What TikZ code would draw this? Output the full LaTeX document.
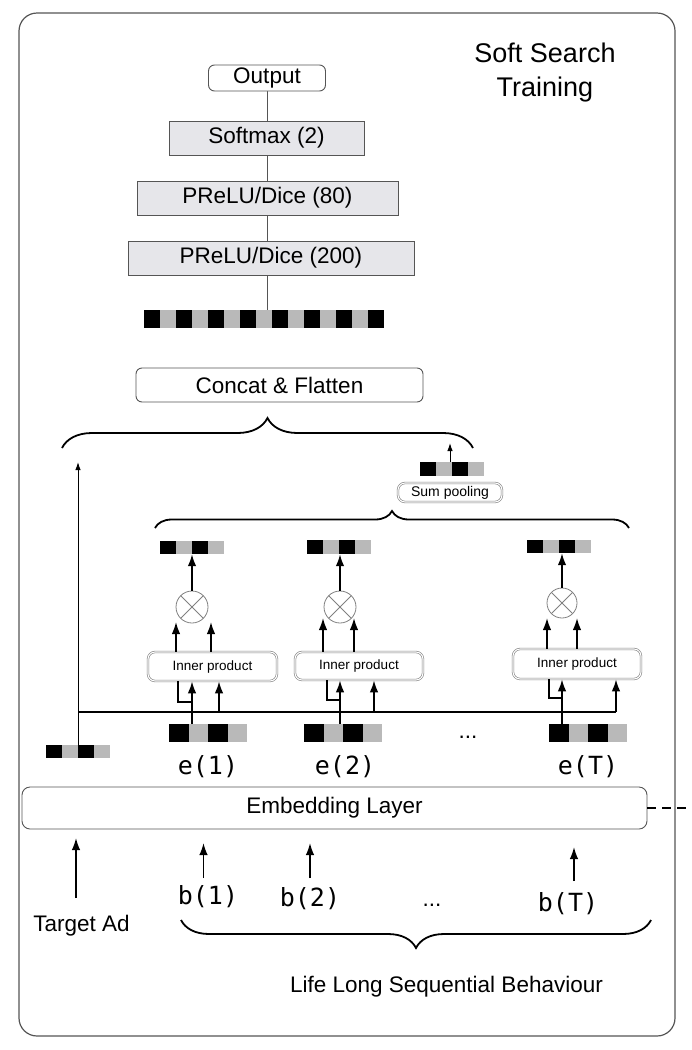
\documentclass[tikz,border=0pt]{standalone}
\usepackage{fontspec}
\setmainfont{Liberation Sans}
\newfontfamily\codefont{DejaVu Sans Mono}
\usetikzlibrary{decorations.pathreplacing, fit, backgrounds, arrows.meta}
\definecolor{cellgray}{HTML}{B9B9B9}
\definecolor{layergray}{HTML}{E6E6EA}
\definecolor{framegray}{HTML}{555555}

% row of black/gray cells: name, left x, top y, cells, cell width, height
\newcommand{\embvec}[6]{%
  \foreach \k in {1,...,#4}{%
    \ifodd\k\relax \def\cellshade{black}\else \def\cellshade{cellgray}\fi
    \fill[\cellshade] ({#2+(\k-1)*#5},#3) rectangle ++(#5,#6);
  }
  \coordinate (#1-nw) at (#2,#3);
  \coordinate (#1-se) at ({#2+#4*#5},{#3+#6});
  \node[fit=(#1-nw)(#1-se), inner sep=0pt] (#1) {};
}

\begin{document}
\begin{tikzpicture}[x=1pt, y=-1pt,
  lbl/.style={font=\fontsize{22.5}{27}\selectfont},
  code/.style={font=\codefont\fontsize{25}{29}\selectfont},
  box/.style={lbl, draw=framegray, line width=0.9pt, rounded corners=6pt, fill=white, inner sep=0pt},
  layer/.style={lbl, draw=framegray, line width=0.9pt, fill=layergray, inner sep=0pt},
  ipbox/.style={draw=gray, double=white, double distance=1.1pt, line width=0.6pt, rounded corners=7pt, fill=white, inner sep=0pt, font=\fontsize{13.5}{16}\selectfont},
  mult/.style={circle, draw=gray, line width=0.8pt, minimum size=32pt, inner sep=0pt, path picture={\draw[gray, line width=0.8pt] (path picture bounding box.south west) -- (path picture bounding box.north east) (path picture bounding box.north west) -- (path picture bounding box.south east);}},
  link/.style={-{Latex[length=12pt, width=8.5pt]}, line width=1.7pt},
  thin link/.style={-{Latex[length=8pt, width=5.5pt]}, line width=1pt},
  wire/.style={line width=1.6pt},
  curly/.style={decorate, decoration={brace, amplitude=#1}, line width=1.8pt}]
	\useasboundingbox (0,0) rectangle (692,1050);
	\draw[framegray, line width=1.2pt, rounded corners=18pt] (19,13) rectangle (675,1036);

	\node (title)[align=center, font=\fontsize{27}{34}\selectfont] at (545,73){Soft Search\\Training};

	% upper tower
	\node (out)[box, minimum width=117, minimum height=26] at (267,78){Output};
	\node (soft)[layer, minimum width=195, minimum height=34] at (266.5,138){Softmax (2)};
	\node (p80)[layer, minimum width=261, minimum height=34] at (267.5,198){PReLU/Dice (80)};
	\node (p200)[layer, minimum width=286, minimum height=34] at (271,258){PReLU/Dice (200)};
	\embvec{cv}{144}{310}{15}{16}{18}
	\node (concat)[box, minimum width=287, minimum height=34] at (279.5,385){Concat \& Flatten};
	\begin{scope}[on background layer]
		\draw[framegray, line width=0.8pt] (out.south) -- (out.south |- cv.north);
	\end{scope}
	\draw[curly=30] (62,448) -- (473,448);

	% target ad branch
	\embvec{tv}{46}{745}{4}{16}{13}
	\coordinate (ttop) at (78,462);
	\coordinate (tjoin) at (78,712);
	\draw[thin link] (tv.north) -- (ttop);

	% column 1
	\embvec{e1}{169}{724}{4}{19.5}{18}
	\node (e1lab)[code] at (208,767){e(1)};
	\node (ip1)[ipbox, minimum width=129, minimum height=29] at (212.5,666.5){Inner product};
	\node (m1)[mult] at (192,607){};
	\embvec{o1}{160}{541}{4}{16}{13}
	\coordinate (j1) at (178,702);
	\coordinate (t1) at (219,712);
	\coordinate (u1) at (176,622);
	\coordinate (v1) at (211,622);
	\draw[link] (e1.north -| m1) -- (ip1.south -| m1);
	\draw[wire] (ip1.south -| j1) -- (j1) -- (j1 -| m1);
	\draw[link] (t1) -- (t1 |- ip1.south);
	\draw[link] (ip1.north -| u1) -- (u1);
	\draw[link] (ip1.north -| v1) -- (v1);
	\draw[link] (m1.north) -- (m1.north |- o1.south);

	% column 2
	\embvec{e2}{304}{724}{4}{19.5}{18}
	\node (e2lab)[code] at (345,767){e(2)};
	\node (ip2)[ipbox, minimum width=128, minimum height=28] at (359,666){Inner product};
	\node (m2)[mult] at (340,607){};
	\embvec{o2}{307}{540}{4}{16}{14}
	\coordinate (j2) at (327,700);
	\coordinate (t2) at (374,712);
	\coordinate (u2) at (323,618);
	\coordinate (v2) at (354,618);
	\draw[link] (e2.north -| m2) -- (ip2.south -| m2);
	\draw[wire] (ip2.south -| j2) -- (j2) -- (j2 -| m2);
	\draw[link] (t2) -- (t2 |- ip2.south);
	\draw[link] (ip2.north -| u2) -- (u2);
	\draw[link] (ip2.north -| v2) -- (v2);
	\draw[link] (m2.north) -- (m2.north |- o2.south);

	\node (edots)[lbl] at (468,737){...};

	% column T
	\embvec{eT}{549}{724}{4}{19.5}{18}
	\node (eTlab)[code] at (588,767){e(T)};
	\node (ipT)[ipbox, minimum width=128, minimum height=30] at (577,664){Inner product};
	\node (mT)[mult, minimum size=30pt] at (562,603){};
	\embvec{oT}{527}{540}{4}{16}{13}
	\coordinate (jT) at (549,698);
	\coordinate (tT) at (616,712);
	\coordinate (uT) at (547,618);
	\coordinate (vT) at (577,618);
	\draw[link] (eT.north -| mT) -- (ipT.south -| mT);
	\draw[wire] (ipT.south -| jT) -- (jT) -- (jT -| mT);
	\draw[link] (tT) -- (tT |- ipT.south);
	\draw[link] (ipT.north -| uT) -- (uT);
	\draw[link] (ipT.north -| vT) -- (vT);
	\draw[link] (mT.north) -- (mT.north |- oT.south);

	\draw[wire] (tjoin) -- (tT);

	% pooling
	\draw[curly=17] (155,528) -- (629,528);
	\node (sum)[ipbox, minimum width=104, minimum height=19, font=\fontsize{14}{16}\selectfont] at (450,492.5){Sum pooling};
	\embvec{sv}{420}{462}{4}{16}{14}
	\coordinate (stop) at (450,443);
	\draw[thin link] (sv.north -| stop) -- (stop);

	% embedding and inputs
	\node (emb)[box, rounded corners=8pt, minimum width=625, minimum height=42] at (334.5,808){Embedding Layer};
	\coordinate (dashend) at (692,808);
	\draw[line width=2.5pt, dash pattern=on 9pt off 6pt] (emb.east) -- (dashend);

	\node (tad)[lbl] at (81.5,926){Target Ad};
	\node (b1)[code] at (208,897){b(1)};
	\node (b2)[code] at (310,899){b(2)};
	\node (bdots)[lbl] at (432,905){...};
	\node (bT)[code] at (568,904){b(T)};
	\coordinate (ta0) at (76,898);
	\coordinate (ta1) at (76,838);
	\coordinate (b1a) at (203.5,878);
	\coordinate (b1b) at (203.5,843);
	\coordinate (b2a) at (310,878);
	\coordinate (b2b) at (310,843);
	\coordinate (bTa) at (574,881);
	\coordinate (bTb) at (574,847);
	\draw[link, line width=1.5pt] (ta0) -- (ta1);
	\draw[link, line width=1.5pt] (b1a) -- (b1b);
	\draw[link, line width=1.5pt] (b2a) -- (b2b);
	\draw[link, line width=1.5pt] (bTa) -- (bTb);

	\draw[curly=28, decoration={mirror}] (181,920) -- (651,920);
	\node (llsb)[lbl] at (446.5,987){Life Long Sequential Behaviour};
\end{tikzpicture}
\end{document}
